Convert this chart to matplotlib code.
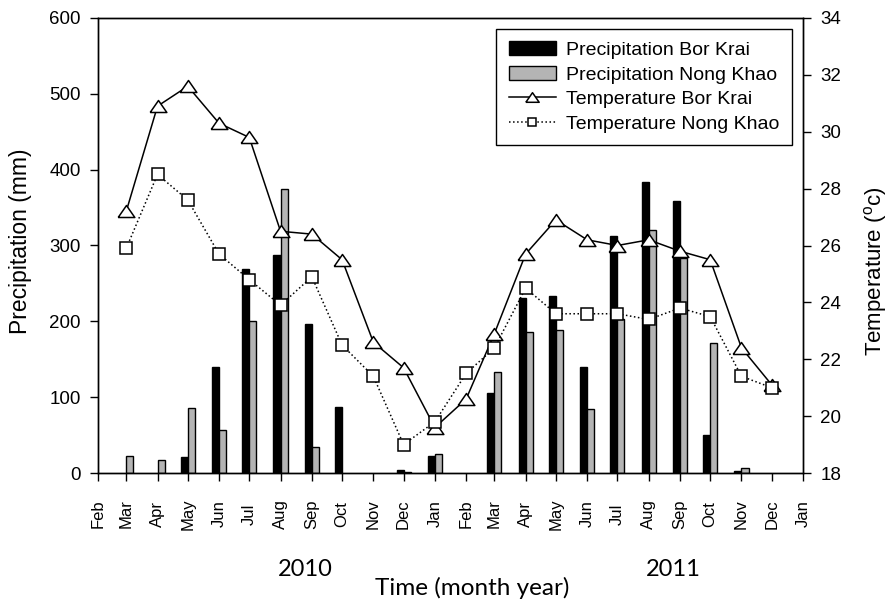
import datetime as dt

import numpy as np
import matplotlib
matplotlib.use('Agg')
import matplotlib.pyplot as plt
import matplotlib.dates as mdates

plt.rcParams['font.family'] = ['Liberation Sans', 'DejaVu Sans']
plt.rcParams['mathtext.default'] = 'regular'

# Monthly records, Mar 2010 - Dec 2011
months = [dt.date(2010, m, 1) for m in range(3, 13)] + \
         [dt.date(2011, m, 1) for m in range(1, 13)]
nan = np.nan
rain_bor_krai = [nan, nan, 21, 140, 269, 287, 197, 87, nan, 3.5,
                 23, nan, 105, 231, 234, 140, 313, 384, 359, 50, 2, nan]
rain_nong_khao = [23, 17, 86, 57, 201, 375, 34, nan, nan, 1,
                  25, nan, 133, 186, 189, 85, 203, 321, 284, 171, 6, nan]
temp_bor_krai = [27.2, 30.9, 31.6, 30.3, 29.8, 26.5, 26.4, 25.5, 22.6, 21.7,
                 19.6, 20.6, 22.9, 25.7, 26.9, 26.2, 26.0, 26.2, 25.8, 25.5, 22.4, 21.1]
temp_nong_khao = [25.9, 28.5, 27.6, 25.7, 24.8, 23.9, 24.9, 22.5, 21.4, 19.0,
                  19.8, 21.5, 22.4, 24.5, 23.6, 23.6, 23.6, 23.4, 23.8, 23.5, 21.4, 21.0]
year_labels = ['2010', '2011']

tick_dates = [dt.date(2010, m, 1) for m in range(2, 13)] + \
             [dt.date(2011, m, 1) for m in range(1, 13)] + [dt.date(2012, 1, 1)]

fig = plt.figure(figsize=(8.9, 6.01), dpi=100)
ax = fig.add_axes([98/890, 1-473/601, 705/890, 455/601])

# paired bars: Bor Krai left of the month tick, Nong Khao right of it
ax.bar(months, rain_bor_krai, width=-7, align='edge', color='black',
       edgecolor='black', linewidth=1, label='Precipitation Bor Krai')
ax.bar(months, rain_nong_khao, width=7, align='edge', color='#b4b4b4',
       edgecolor='black', linewidth=1, label='Precipitation Nong Khao')

ax.set_xlim(tick_dates[0], tick_dates[-1])
ax.set_ylim(0, 600)
ax.set_yticks(np.arange(0, 601, 100))
ax.set_xticks(tick_dates)
ax.xaxis.set_major_formatter(mdates.DateFormatter('%b'))
ax.tick_params(axis='x', direction='out', length=6, width=1, pad=23.5,
               labelsize=12, labelrotation=90)
for lbl in ax.get_xticklabels():
    lbl.set_va('center')
ax.tick_params(axis='y', direction='out', length=6, width=1, pad=6.5, labelsize=13.5)
ax.set_ylabel('Precipitation (mm)', fontsize=16.5)
ax.yaxis.set_label_coords(-0.094, 0.51)

ax2 = ax.twinx()
tri = [(-1, -0.72), (1, -0.72), (0, 0.72), (-1, -0.72)]
ax2.plot(months, temp_bor_krai, color='black', linewidth=1.1, marker=tri,
         markersize=12, markerfacecolor='white', markeredgecolor='black',
         markeredgewidth=1.1, label='Temperature Bor Krai')
ax2.plot(months, temp_nong_khao, color='black', linewidth=1.1, linestyle=':',
         marker='s', markersize=8, markerfacecolor='white',
         markeredgecolor='black', markeredgewidth=1.1,
         label='Temperature Nong Khao')
ax2.set_ylim(18, 34)
ax2.set_yticks(np.arange(18, 35, 2))
ax2.tick_params(axis='y', direction='out', length=6, width=1, pad=6.5, labelsize=13.5)
ax2.set_ylabel('Temperature ($^{o}$c)', fontsize=16)
ax2.yaxis.set_label_coords(1.083, 0.444)

for a in (ax, ax2):
    for s in a.spines.values():
        s.set_linewidth(1)

h1, l1 = ax.get_legend_handles_labels()
h2, l2 = ax2.get_legend_handles_labels()
leg = ax2.legend(h1 + h2, l1 + l2, loc='upper right', fontsize=14,
                 frameon=True, fancybox=False, edgecolor='black',
                 framealpha=1, borderaxespad=0.55, handlelength=2.4,
                 handletextpad=0.55, labelspacing=0.36, borderpad=0.65,
                 markerscale=0.8)
leg.get_frame().set_linewidth(1)

fig.text(305/890, 1-570/601, year_labels[0], ha='center', va='center',
         fontsize=17, family=['Lato', 'DejaVu Sans'])
fig.text(673/890, 1-570/601, year_labels[1], ha='center', va='center',
         fontsize=17, family=['Lato', 'DejaVu Sans'])
fig.text(472/890, 1-588/601, 'Time (month year)', ha='center', va='center',
         fontsize=17.5, family=['Lato', 'DejaVu Sans'])

fig.savefig('out.png', dpi=100)
